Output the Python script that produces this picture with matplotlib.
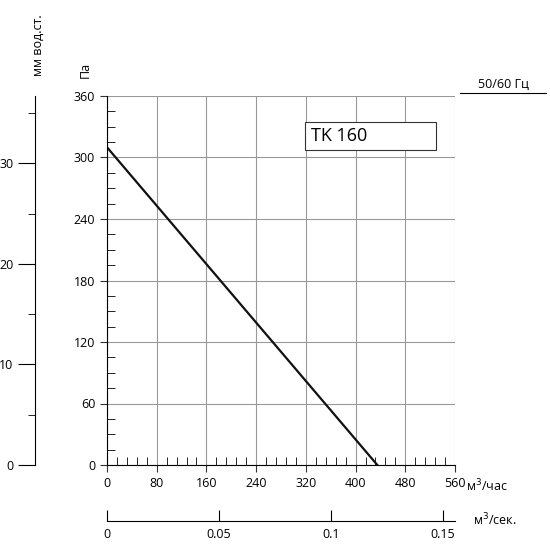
import matplotlib
matplotlib.use('Agg')
import matplotlib.pyplot as plt
from matplotlib.ticker import MultipleLocator
from matplotlib.patches import Rectangle

# curve points (m3/h, Pa)
flow = [0, 435]
pressure = [310, 0]
x_ticks = [0, 80, 160, 240, 320, 400, 480, 560]
y_ticks = [0, 60, 120, 180, 240, 300, 360]
mm_ticks = [0, 10, 20, 30]
sec_ticks = [0, 0.05, 0.1, 0.15]
sec_labels = ['0', '0.05', '0.1', '0.15']

plt.rcParams['font.family'] = ['Open Sans', 'DejaVu Sans']
fig = plt.figure(figsize=(5.5, 5.5), dpi=100)
pos = [107 / 550, 85 / 550, 348 / 550, 369 / 550]

ax = fig.add_axes(pos)
ax.set_xlim(0, 560)
ax.set_ylim(0, 360)
ax.set_xticks(x_ticks)
ax.set_yticks(y_ticks)
ax.xaxis.set_minor_locator(MultipleLocator(16))
ax.yaxis.set_minor_locator(MultipleLocator(15))
ax.grid(True, color='#999999', linewidth=0.8)
for s in ['top', 'right']:
    ax.spines[s].set_visible(False)
ax.tick_params(which='major', direction='out', length=5, labelsize=9, color='#333333')
ax.tick_params(which='minor', direction='in', length=6)
ax.plot(flow, pressure, color='#111111', linewidth=1.6)

ax.add_patch(Rectangle((0.568, 0.855), 0.377, 0.075, transform=ax.transAxes,
                       fc='white', ec='#333333', lw=0.8, zorder=3))
ax.text(0.585, 0.892, 'TK 160', transform=ax.transAxes, fontsize=13, va='center', zorder=4)

# mm water column axis
ax2 = fig.add_axes(pos)
ax2.set_ylim(0, 360 / 9.81)
ax2.set_xticks([])
ax2.set_yticks(mm_ticks)
ax2.yaxis.set_minor_locator(MultipleLocator(5))
for s in ['top', 'right', 'bottom']:
    ax2.spines[s].set_visible(False)
ax2.spines['left'].set_position(('outward', 52))
ax2.tick_params(which='major', direction='out', length=12, labelsize=9)
ax2.tick_params(which='minor', direction='out', length=5)
ax2.patch.set_visible(False)

# m3/s axis
ax3 = fig.add_axes(pos)
ax3.set_xlim(0, 560 / 3600)
ax3.set_yticks([])
ax3.set_xticks(sec_ticks)
ax3.set_xticklabels(sec_labels)
for s in ['top', 'right', 'left']:
    ax3.spines[s].set_visible(False)
ax3.spines['bottom'].set_position(('outward', 40))
ax3.tick_params(direction='in', length=8, labelsize=9, pad=5)
ax3.patch.set_visible(False)

fig.text(85 / 550, 1 - 70 / 550, 'Па', rotation=90, fontsize=9, ha='center', va='center')
fig.text(38 / 550, 1 - 45 / 550, 'мм вод.ст.', rotation=90, fontsize=9, ha='center', va='center')
fig.text(466 / 550, 1 - 486 / 550, 'м$^3$/час', fontsize=9, va='center')
fig.text(473 / 550, 1 - 520 / 550, 'м$^3$/сек.', fontsize=9, va='center')
fig.text(503 / 550, 1 - 84 / 550, '50/60 Гц', fontsize=9, ha='center', va='center')
fig.add_artist(plt.Line2D([460 / 550, 546 / 550], [1 - 93 / 550, 1 - 93 / 550], color='black', lw=0.8))

fig.savefig('out.png', dpi=100)
